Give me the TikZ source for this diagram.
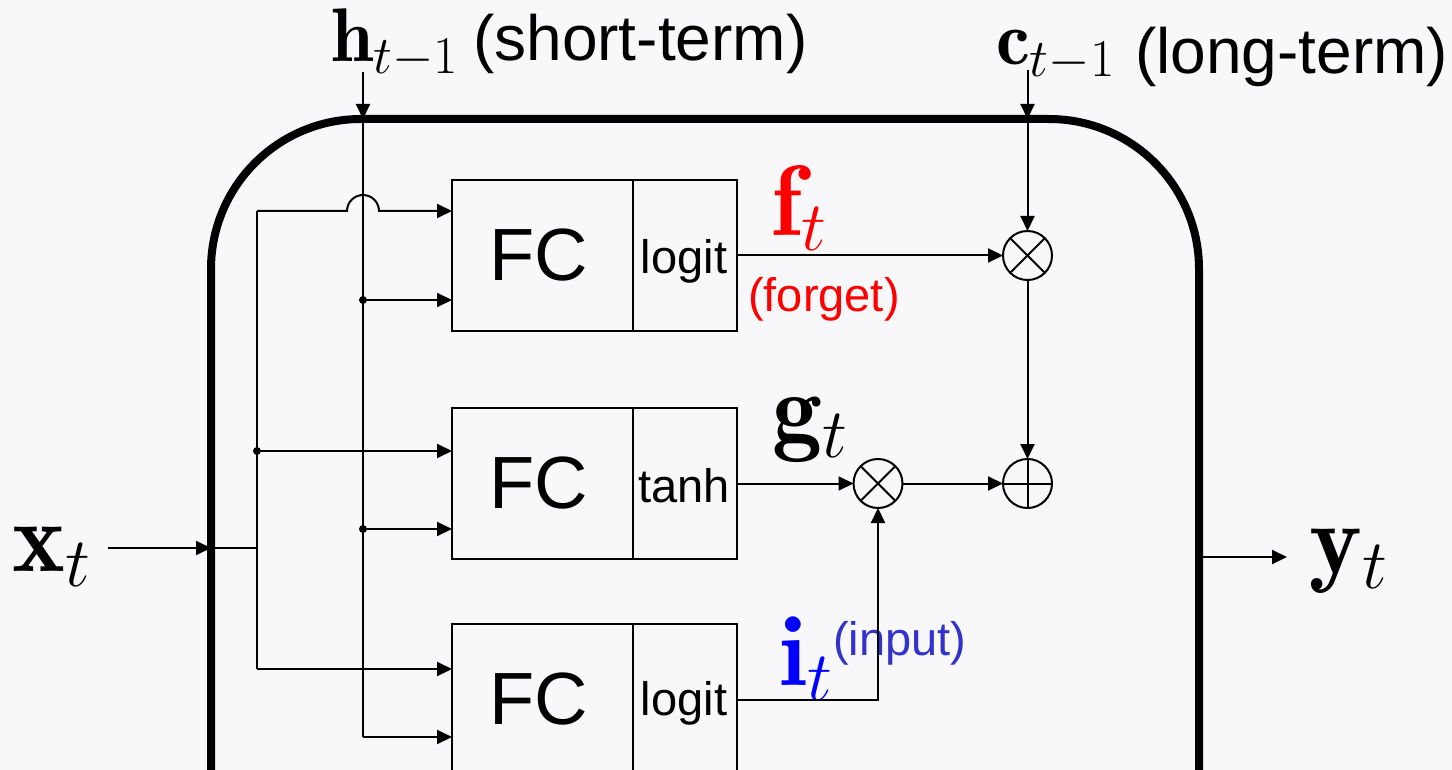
\RequirePackage{fix-cm}
\documentclass[tikz,border=0pt]{standalone}
\usepackage{fontspec}
\newfontfamily\arial{Liberation Sans}
\usetikzlibrary{arrows.meta,calc}
\definecolor{bg}{RGB}{248,248,250}
\definecolor{inputblue}{RGB}{51,51,204}
\begin{document}
\begin{tikzpicture}[x=1pt,y=-1pt,
  ln/.style={line width=2pt},
  arr/.style={line width=2pt, -{Triangle[length=15pt,width=14pt]}},
  fcbox/.style={draw, line width=2pt, minimum width=181pt, minimum height=151pt, inner sep=0pt, outer sep=0pt},
  actbox/.style={draw, line width=2pt, minimum width=104pt, minimum height=151pt, inner sep=0pt, outer sep=0pt, anchor=west},
  fctext/.style={inner sep=0pt, anchor=base, font=\arial\fontsize{74}{74}\selectfont},
  acttext/.style={inner sep=0pt, anchor=base, font=\arial\fontsize{47}{47}\selectfont},
  op/.style={circle, draw, line width=2pt, minimum size=49pt, inner sep=0pt, outer sep=0pt},
  jdot/.style={circle, fill, inner sep=0pt, minimum size=8pt},
  bigmath/.style={inner sep=0pt, anchor=base west, font=\fontsize{100}{100}\selectfont},
  midmath/.style={inner sep=0pt, anchor=base west, font=\fontsize{76}{76}\selectfont},
  lbl/.style={inner sep=0pt, anchor=base west, font=\arial\fontsize{64}{64}\selectfont},
  smalllbl/.style={inner sep=0pt, anchor=base west, font=\arial\fontsize{47}{47}\selectfont}
]
\useasboundingbox (0,0) rectangle (1452,770);
\clip (0,0) rectangle (1452,770);
\fill[bg] (0,0) rectangle (1452,770);

% cell frame
\draw[line width=8pt, rounded corners=150pt] (211,820) -- (211,119) -- (1199,119) -- (1199,820);

% boxes
\node[fcbox] (fc1) at (542.5,255.5) {};
\node[actbox] (act1) at (fc1.east) {};
\node[fcbox] (fc2) at (542.5,483.5) {};
\node[actbox] (act2) at (fc2.east) {};
\node[fcbox] (fc3) at (542.5,699.5) {};
\node[actbox] (act3) at (fc3.east) {};
\node[fctext] (fc1t) at ($(fc1.center)+(-4,24.5)$) {FC};
\node[fctext] (fc2t) at ($(fc2.center)+(-4,24.5)$) {FC};
\node[fctext] (fc3t) at ($(fc3.center)+(-4,24.5)$) {FC};
\node[acttext] (act1t) at ($(act1.center)+(-1,17.5)$) {logit};
\node[acttext] (act2t) at ($(act2.center)+(-1,18.5)$) {tanh};
\node[acttext] (act3t) at ($(act3.center)+(-1,16)$) {logit};

% operators
\node[op] (m1) at (1027.5,255.5) {};
\draw[ln] (m1.north east) -- (m1.south west) (m1.north west) -- (m1.south east);
\node[op] (m2) at (878,483.5) {};
\draw[ln] (m2.north east) -- (m2.south west) (m2.north west) -- (m2.south east);
\node[op] (a1) at (1027.5,483.5) {};
\draw[ln] (a1.north) -- (a1.south) (a1.west) -- (a1.east);

% labels
\node[midmath] (hl) at (331,62) {$\mathbf{h}_{t-1}$};
\node[lbl] (hs) at (473,61) {(short-term)};
\node[midmath] (cl) at (996,65) {$\mathbf{c}_{t-1}$};
\node[lbl] (cs) at (1135,74) {(long-term)};
\node[bigmath, text=red] (fl) at (771,236) {$\mathbf{f}_t$};
\node[smalllbl, text=red] (fs) at (748,312) {(forget)};
\node[bigmath] (gl) at (772,442) {$\mathbf{g}_t$};
\node[bigmath, text=blue] (il) at (779,685) {$\mathbf{i}_t$};
\node[smalllbl, text=inputblue] (is) at (833,655) {(input)};
\node[bigmath] (xl) at (12,571) {$\mathbf{x}_t$};
\node[bigmath] (yl) at (1309,573) {$\mathbf{y}_t$};

% h_{t-1} path
\coordinate (htop) at (363,72);
\coordinate (hin) at (363,119);
\coordinate (hbot) at (363,737);
\draw[arr] (htop) -- (hin);
\draw[ln] (hin) -- (hbot);
\draw[arr] (hbot) -- (hbot -| fc3.west);
\node[jdot] (dh1) at (363,300) {};
\draw[arr] (dh1) -- (dh1 -| fc1.west);
\node[jdot] (dh2) at (363,529) {};
\draw[arr] (dh2) -- (dh2 -| fc2.west);

% x_t path
\coordinate (xs) at (108,548);
\coordinate (xin) at (211,548);
\coordinate (xj) at (257,548);
\coordinate (xtop) at (257,211);
\coordinate (xbot) at (257,669);
\draw[arr] (xs) -- (xin);
\draw[ln] (xin) -- (xj);
\draw[ln] (xtop) -- (xbot);
\node[jdot] (dx) at (257,451) {};
\draw[arr] (dx) -- (dx -| fc2.west);
\draw[arr] (xbot) -- (xbot -| fc3.west);
\draw[arr] (xtop) -- ($(xtop -| hin)+(-16,0)$) arc[start angle=180, end angle=0, radius=16pt] -- (xtop -| fc1.west);

% c_{t-1} path
\coordinate (ctop) at (1027.5,70);
\coordinate (cin) at (1027.5,119);
\draw[arr] (ctop) -- (cin);
\draw[arr] (cin) -- (m1.north);

% gates
\draw[arr] (act1.east) -- (m1.west);
\draw[arr] (act2.east) -- (m2.west);
\draw[arr] (act3.east) -| (m2.south);
\draw[arr] (m2.east) -- (a1.west);
\draw[arr] (m1.south) -- (a1.north);

% output
\coordinate (yo) at (1199,557);
\coordinate (yend) at (1287,557);
\draw[arr] (yo) -- (yend);
\end{tikzpicture}
\end{document}
